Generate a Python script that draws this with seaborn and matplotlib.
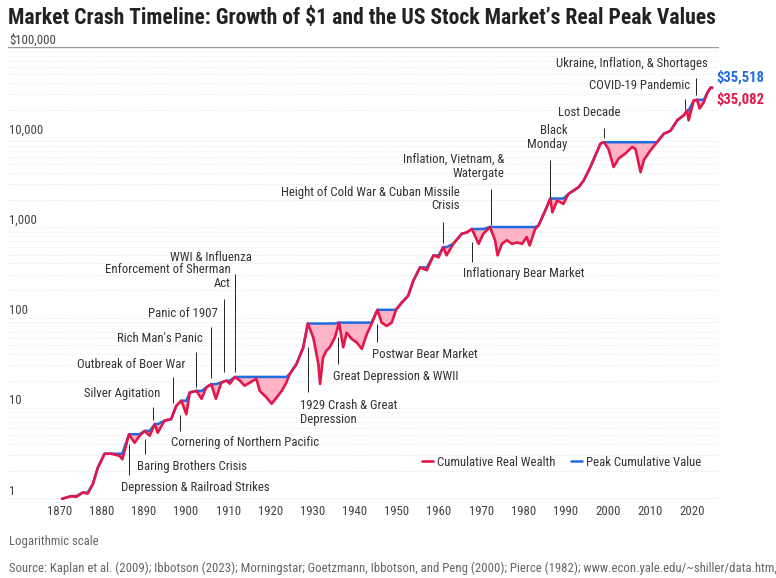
import matplotlib.pyplot as plt
import numpy as np
import pandas as pd
import seaborn as sns
from matplotlib import font_manager
from matplotlib.ticker import LogLocator, NullFormatter

# Growth of $1, real
years = [1870.6, 1872.8, 1874.0, 1875.5, 1876.7, 1877.9, 1879.1, 1880.7, 1882.3, 1884.3,
         1884.9, 1886.5, 1887.8, 1889.0, 1890.2, 1891.4, 1892.6, 1893.3, 1894.9, 1896.5,
         1897.7, 1898.9, 1900.1, 1900.9, 1902.5, 1903.7, 1904.8, 1906.0, 1907.1, 1908.4,
         1909.6, 1910.4, 1911.6, 1912.8, 1913.9, 1915.1, 1916.7, 1917.5, 1919.1, 1920.3,
         1921.5, 1922.7, 1923.8, 1924.6, 1926.2, 1927.8, 1928.9, 1930.2, 1931.4, 1931.8,
         1932.5, 1933.3, 1934.1, 1935.3, 1936.3, 1937.3, 1938.1, 1939.3, 1940.5, 1941.7,
         1942.9, 1944.0, 1945.4, 1946.4, 1947.6, 1948.8, 1949.8, 1951.2, 1952.7, 1953.9,
         1955.5, 1957.1, 1958.7, 1959.9, 1961.0, 1961.8, 1963.4, 1965.4, 1966.6, 1967.8,
         1969.4, 1970.5, 1972.1, 1973.3, 1973.9, 1974.9, 1976.1, 1977.3, 1978.5, 1979.7,
         1980.8, 1981.5, 1982.8, 1983.6, 1985.2, 1986.4, 1986.9, 1988.0, 1989.5, 1990.7,
         1993.1, 1994.3, 1995.9, 1997.1, 1998.3, 1999.1, 2000.2, 2001.4, 2002.6, 2004.2,
         2005.8, 2006.6, 2007.8, 2008.6, 2010.1, 2011.7, 2013.3, 2014.9, 2016.5, 2018.1,
         2018.8, 2019.2, 2020.4, 2021.2, 2021.8, 2022.8, 2023.6, 2024.4, 2024.8]
wealth = [0.98, 1.05, 1.03, 1.15, 1.12, 1.42, 2.17, 3.1, 3.1, 2.93,
          2.69, 5.1, 4.1, 4.9, 5.55, 4.9, 6.6, 5.3, 7.2, 7.5,
          10.5, 12.0, 8.5, 14.8, 15.4, 12.6, 16.8, 18.3, 12.6, 19.1,
          20.0, 18.5, 22.0, 20.0, 17.6, 19.0, 21.0, 15.4, 13.0, 11.1,
          13.0, 15.4, 19.0, 23.7, 30.5, 46.6, 86.0, 60.0, 30.5, 18.4,
          36.0, 43.0, 47.0, 60.0, 88.0, 47.0, 68.0, 58.0, 53.0, 45.0,
          66.0, 85.0, 122.0, 88.0, 81.0, 88.0, 122.0, 147.0, 175.0, 256.0,
          360.0, 335.0, 490.0, 466.0, 604.0, 490.0, 658.0, 850.0, 880.0, 960.0,
          658.0, 850.0, 1010.0, 720.0, 490.0, 658.0, 720.0, 658.0, 680.0, 658.0,
          780.0, 630.0, 960.0, 1050.0, 1540.0, 2090.0, 1470.0, 1990.0, 1820.0, 2350.0,
          2790.0, 3300.0, 4670.0, 6300.0, 8500.0, 8800.0, 7400.0, 4670.0, 5800.0, 6600.0,
          7800.0, 7400.0, 4100.0, 5600.0, 7100.0, 8800.0, 10900.0, 11800.0, 15400.0, 17600.0,
          19800.0, 15400.0, 25500.0, 26000.0, 20800.0, 24500.0, 30800.0, 35518.0, 35082.0]

x_ticks = list(range(1870, 2021, 10))
y_ticks = [1, 10, 100, 1000, 10000, 100000]
y_tick_labels = ['1', '10', '100', '1,000', '10,000', '$100,000']

# event label, text x, text y, alignment, leader x, leader top, leader bottom
events = [
    ('Depression & Railroad Strikes', 1884.7, 1.30, 'left', 1886.5, 4.0, 1.8),
    ('Baring Brothers Crisis', 1888.5, 2.21, 'left', 1890.3, 4.5, 3.06),
    ('Cornering of Northern Pacific', 1896.4, 4.12, 'left', 1898.5, 8.36, 5.55),
    ('Silver Agitation', 1894.0, 14.4, 'right', 1892.2, 10.1, 7.3),
    ('Outbreak of Boer War', 1899.9, 30.0, 'right', 1896.9, 21.7, 11.45),
    ("Rich Man's Panic", 1904.0, 58.0, 'right', 1902.3, 41.2, 17.1),
    ('Panic of 1907', 1907.5, 110.0, 'right', 1906.0, 78.0, 21.2),
    ('Enforcement of Sherman\nAct', 1910.6, 285.0, 'right', 1909.0, 161.0, 24.7),
    ('WWI & Influenza', 1896.1, 460.0, 'left', 1911.7, 306.0, 24.7),
    ('1929 Crash & Great\nDepression', 1927.0, 8.87, 'left', 1929.0, 46.8, 14.8),
    ('Great Depression & WWII', 1934.85, 22.1, 'left', 1936.1, 61.5, 30.6),
    ('Postwar Bear Market', 1944.0, 39.5, 'left', 1945.4, 85.1, 53.2),
    ('Inflationary Bear Market', 1965.6, 311.0, 'left', 1967.9, 687.0, 412.0),
    ('Height of Cold War & Cuban Missile\nCrisis', 1965.0, 2057.0, 'right', 1961.05, 1145.0, 669.0),
    ('Inflation, Vietnam, &\nWatergate', 1975.5, 4738.0, 'right', 1972.4, 2692.0, 1052.0),
    ('Black\nMonday', 1990.5, 9950.0, 'right', 1986.4, 5653.0, 2138.0),
    ('Lost Decade', 1995.7, 18800.0, 'center', 1999.2, 12500.0, 9920.0),
    ('COVID-19 Pandemic', 2019.6, 37150.0, 'right', 2018.3, 26240.0, 20300.0),
    ('Ukraine, Inflation, & Shortages', 2023.85, 65900.0, 'right', 2020.9, 44900.0, 29290.0),
]

red = '#E3174A'
blue = '#1F6BE0'
pink = '#FFB3C7'
grey = '#444444'
fs = 9.2

df = pd.DataFrame({'year': years, 'wealth': wealth})
df['peak'] = np.maximum.accumulate(df['wealth'])

sns.set_theme(style='white')
names = {f.name for f in font_manager.fontManager.ttflist}
condensed_dejavu = any(f.name == 'DejaVu Sans' and f.stretch == 'condensed'
                       for f in font_manager.fontManager.ttflist)
if 'Roboto Condensed' in names:
    plt.rcParams['font.family'] = ['Roboto Condensed', 'DejaVu Sans']
elif condensed_dejavu:
    plt.rcParams['font.family'] = ['DejaVu Sans']
    plt.rcParams['font.stretch'] = 'condensed'
else:
    plt.rcParams['font.family'] = ['Roboto', 'DejaVu Sans']

fig = plt.figure(figsize=(7.76, 5.78), dpi=100)
ax = fig.add_axes([8 / 776, 1 - 504.4 / 578, 711 / 776, 457.4 / 578])
ax.set_axisbelow(True)

ax.fill_between(df['year'], df['wealth'], df['peak'], where=df['peak'] > df['wealth'],
                interpolate=True, color=pink, lw=0, zorder=1)
sns.lineplot(data=df, x='year', y='peak', color=blue, lw=1.8, estimator=None,
             label='Peak Cumulative Value', ax=ax, zorder=2)
sns.lineplot(data=df, x='year', y='wealth', color=red, lw=1.9, estimator=None,
             label='Cumulative Real Wealth', ax=ax, zorder=3)

ax.set_yscale('log')
ax.set_ylim(0.85, 100000)
ax.set_xlim(1857.8, 2026.4)
ax.yaxis.set_minor_locator(LogLocator(base=10, subs=np.arange(2, 10)))
ax.yaxis.set_minor_formatter(NullFormatter())
ax.set_yticks(y_ticks)
ax.grid(True, axis='y', which='both', ls=(0, (1.5, 1.5)), color='#e6e6e6', lw=0.5)
ax.axhline(100000, color='#9a9a9a', lw=1, zorder=1.5)
ax.tick_params(axis='y', which='both', length=0, labelleft=False)
for tick, lab in zip(y_ticks, y_tick_labels):
    ax.annotate(lab, xy=(0, tick), xycoords=ax.get_yaxis_transform(), xytext=(1, 2.4),
                textcoords='offset points', ha='left', va='baseline', fontsize=fs, color=grey)

ax.set_xticks(x_ticks)
ax.set_xticklabels([str(t) for t in x_ticks])
ax.tick_params(axis='x', length=0, pad=0.5, labelsize=fs, labelcolor=grey)
ax.set_xlabel('')
ax.set_ylabel('')
for s in ax.spines.values():
    s.set_visible(False)

for label, tx, ty, ha, lx, ltop, lbot in events:
    ax.text(tx, ty, label, ha=ha, va='center', fontsize=fs, color='#333333',
            linespacing=1.05, zorder=5)
    ax.vlines(lx, lbot, ltop, color='#222222', lw=0.7, zorder=4)

ax.text(2025.8, 46700, f"${df['peak'].iloc[-1]:,.0f}", color=blue, fontsize=10.5,
        weight='bold', ha='left', va='center', clip_on=False)
ax.text(2025.8, 26240, f"${df['wealth'].iloc[-1]:,.0f}", color=red, fontsize=10.5,
        weight='bold', ha='left', va='center', clip_on=False)

handles, labels = ax.get_legend_handles_labels()
order = [labels.index('Cumulative Real Wealth'), labels.index('Peak Cumulative Value')]
ax.legend([handles[i] for i in order], [labels[i] for i in order], loc='center left',
          bbox_to_anchor=(410 / 776, 1 - 462 / 578), bbox_transform=fig.transFigure,
          frameon=False, ncol=2, handlelength=0.9, handletextpad=0.3, columnspacing=1.2,
          fontsize=fs, labelcolor='#333333')

fig.text(8 / 776, 1 - 18 / 578,
         "Market Crash Timeline: Growth of $1 and the US Stock Market\u2019s Real Peak Values",
         fontsize=15.6, weight='bold', color='#222222', ha='left', va='center')
fig.text(9 / 776, 1 - 541 / 578, 'Logarithmic scale', fontsize=fs, color='#666666',
         ha='left', va='center')
fig.text(9 / 776, 1 - 568 / 578,
         'Source: Kaplan et al. (2009); Ibbotson (2023); Morningstar; Goetzmann, Ibbotson, and Peng (2000); '
         'Pierce (1982); www.econ.yale.edu/~shiller/data.htm,',
         fontsize=fs, color='#666666', ha='left', va='center')

fig.savefig('out.png', dpi=100)
